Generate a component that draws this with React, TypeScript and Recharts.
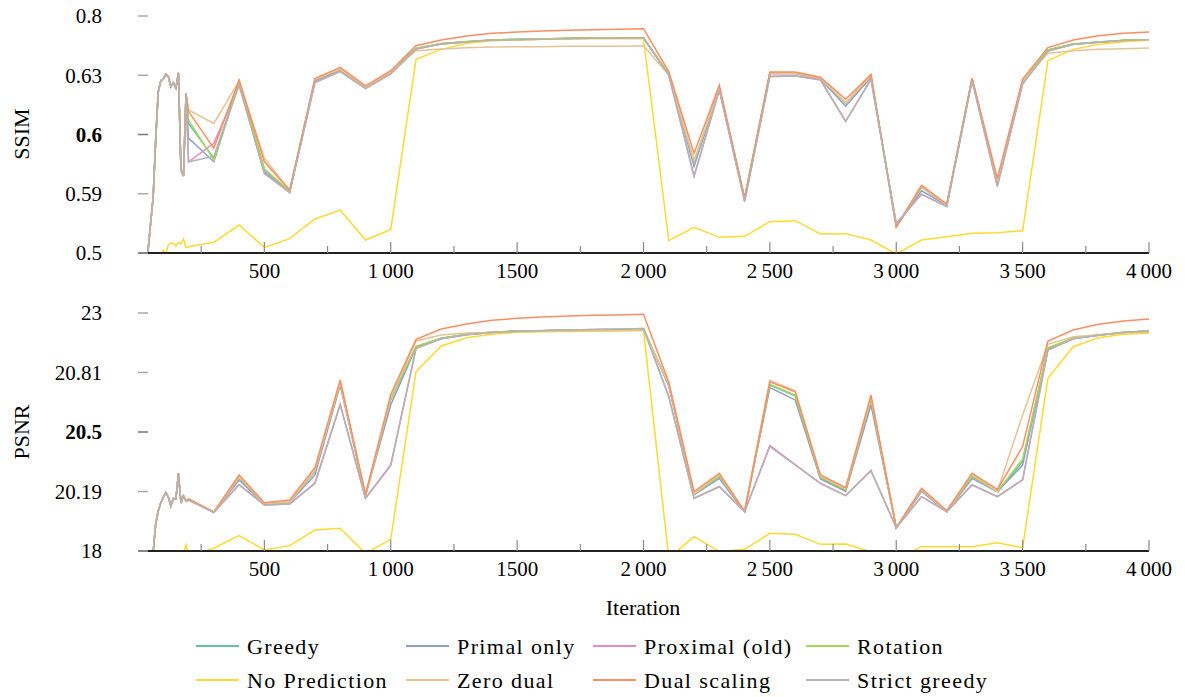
import React from "react";
import { LineChart, Line, XAxis, YAxis } from "recharts";

const FONT = "'Liberation Serif', 'Times New Roman', serif";

// iterations: dense sampling at the start, then every 100
const earlyIterations = [30, 40, 50, 60, 70, 80, 90, 100, 110, 120, 130, 140, 150, 160, 170, 180, 190];
const mainIterations = [
  200, 300, 400, 500, 600, 700, 800, 900, 1000, 1100, 1200, 1300, 1400, 1500, 1600, 1700, 1800, 1900, 2000,
  2100, 2200, 2300, 2400, 2500, 2600, 2700, 2800, 2900, 3000, 3100, 3200, 3300, 3400, 3500, 3600, 3700,
  3800, 3900, 4000,
];

const xTicks = [250, 500, 750, 1000, 1250, 1500, 1750, 2000, 2250, 2500, 2750, 3000, 3250, 3500, 3750, 4000];
const xTickLabels: Record<number, string> = {
  500: "500",
  1000: "1\u2009000",
  1500: "1500",
  2000: "2\u2009000",
  2500: "2\u2009500",
  3000: "3\u2009000",
  3500: "3\u2009500",
  4000: "4\u2009000",
};

const ssimTicks = [0.5, 0.59, 0.6, 0.63, 0.8];
const ssimTickLabels = ["0.5", "0.59", "0.6", "0.63", "0.8"];
const psnrTicks = [18, 20.19, 20.5, 20.81, 23];
const psnrTickLabels = ["18", "20.19", "20.5", "20.81", "23"];

const seriesKeys = ["greedy", "primal", "proximal", "rotation", "noPred", "zeroDual", "dualScaling", "strictGreedy"];
const seriesNames = ["Greedy", "Primal only", "Proximal (old)", "Rotation", "No Prediction", "Zero dual", "Dual scaling", "Strict greedy"];
const seriesColors = ["#66c2a5", "#8da0cb", "#e78ac3", "#a6d854", "#ffd92f", "#e5c494", "#fc8d62", "#b3b3b3"];

// ---- SSIM ----
const ssimEarly = [0.46, 0.5046, 0.5456, 0.585, 0.5991, 0.6215, 0.6272, 0.6281, 0.6327, 0.6293, 0.6242, 0.6262, 0.6235, 0.6365, 0.594, 0.593, 0.621];
const ssimEarlyNoPred = [0.44, 0.45, 0.46, 0.465, 0.47, 0.475, 0.48, 0.5038, 0.4993, 0.5122, 0.5152, 0.5144, 0.5106, 0.516, 0.5137, 0.5213, 0.5084];

const ssimGreedy = [
  0.6056, 0.596, 0.6268, 0.5941, 0.5904, 0.6276, 0.647, 0.6239, 0.6384, 0.7072,
  0.7206, 0.7264, 0.7312, 0.733, 0.734, 0.7359, 0.7369, 0.7369, 0.737, 0.6336,
  0.595, 0.6234, 0.583, 0.6355, 0.6355, 0.6283, 0.6158, 0.6296, 0.54, 0.5911,
  0.5729, 0.6284, 0.592, 0.6268, 0.7025, 0.7196, 0.7254, 0.7302, 0.732,
];
const ssimPrimal = [
  0.5994, 0.5954, 0.6265, 0.5937, 0.5903, 0.6272, 0.6455, 0.6236, 0.6375, 0.7065,
  0.7203, 0.7262, 0.731, 0.7328, 0.7339, 0.7357, 0.7367, 0.7368, 0.7369, 0.6328,
  0.5946, 0.623, 0.5825, 0.6345, 0.6348, 0.628, 0.6144, 0.629, 0.5405, 0.5905,
  0.5724, 0.628, 0.5918, 0.6265, 0.702, 0.719, 0.725, 0.73, 0.7318,
];
const ssimProximal = [
  0.5954, 0.5985, 0.6252, 0.5935, 0.5902, 0.6264, 0.641, 0.6233, 0.634, 0.7055,
  0.7198, 0.7256, 0.7303, 0.7322, 0.7336, 0.7352, 0.7362, 0.7366, 0.7369, 0.631,
  0.593, 0.6226, 0.5785, 0.6295, 0.6298, 0.6277, 0.6068, 0.628, 0.545, 0.5893,
  0.5706, 0.6274, 0.5913, 0.6257, 0.6998, 0.7186, 0.725, 0.73, 0.732,
];
const ssimRotation = [
  0.6073, 0.5957, 0.6268, 0.5942, 0.5904, 0.6278, 0.6475, 0.624, 0.6388, 0.7075,
  0.7208, 0.7265, 0.7313, 0.7331, 0.7341, 0.736, 0.737, 0.737, 0.7371, 0.634,
  0.5955, 0.6236, 0.5832, 0.6358, 0.6358, 0.6285, 0.616, 0.6298, 0.5398, 0.5912,
  0.573, 0.6284, 0.5921, 0.627, 0.7028, 0.7198, 0.7255, 0.7303, 0.7322,
];
const ssimNoPred = [
  0.5095, 0.5162, 0.5425, 0.5086, 0.5218, 0.5516, 0.5653, 0.5197, 0.5359, 0.6757,
  0.7043, 0.7215, 0.7293, 0.7312, 0.733, 0.734, 0.735, 0.735, 0.7349, 0.5187,
  0.539, 0.5238, 0.5253, 0.5476, 0.5491, 0.5289, 0.5294, 0.5197, 0.4985, 0.5197,
  0.5248, 0.5299, 0.5309, 0.5339, 0.6718, 0.7043, 0.7186, 0.7264, 0.7302,
];
const ssimZeroDual = [
  0.6124, 0.6056, 0.6272, 0.596, 0.5906, 0.6278, 0.6475, 0.624, 0.6388, 0.7005,
  0.7053, 0.7092, 0.7111, 0.7121, 0.7121, 0.713, 0.7135, 0.7135, 0.7148, 0.6307,
  0.5955, 0.6236, 0.5832, 0.6358, 0.6358, 0.6285, 0.616, 0.6298, 0.54, 0.5912,
  0.573, 0.6284, 0.5921, 0.627, 0.6929, 0.7005, 0.7043, 0.7063, 0.7082,
];
const ssimDualScaling = [
  0.6116, 0.5977, 0.6275, 0.5954, 0.5906, 0.6284, 0.6528, 0.6246, 0.6431, 0.7148,
  0.7312, 0.7426, 0.7502, 0.7541, 0.757, 0.7589, 0.7607, 0.7617, 0.7636, 0.6403,
  0.5968, 0.625, 0.5835, 0.6393, 0.6393, 0.629, 0.6178, 0.6326, 0.5395, 0.5914,
  0.5744, 0.6284, 0.5926, 0.6281, 0.7092, 0.7312, 0.7436, 0.7502, 0.7541,
];
const ssimStrictGreedy = [
  0.5954, 0.5963, 0.625, 0.5934, 0.5902, 0.6262, 0.6403, 0.6232, 0.6336, 0.7053,
  0.7196, 0.7254, 0.7302, 0.732, 0.7335, 0.735, 0.736, 0.7365, 0.7369, 0.6307,
  0.5929, 0.6225, 0.578, 0.6293, 0.6296, 0.6276, 0.6065, 0.6279, 0.5451, 0.5891,
  0.5704, 0.6273, 0.5912, 0.6256, 0.6995, 0.7185, 0.725, 0.73, 0.732,
];

// ---- PSNR ----
const psnrEarly = [16.6, 17.0, 17.4, 17.95, 18.994, 19.472, 19.767, 19.969, 20.153, 19.988, 19.656, 19.932, 19.914, 20.284, 19.767, 20.024, 19.84];
const psnrEarlyNoPred = [16.8, 17.1, 16.9, 17.3, 17.2, 17.5, 17.4, 17.6, 17.5, 17.7, 17.6, 17.8, 17.7, 17.85, 17.8, 17.95, 18.22];

const psnrGreedy = [
  19.896, 19.423, 20.259, 19.73, 19.791, 20.293, 20.754, 20.037, 20.667, 21.76,
  22.067, 22.214, 22.288, 22.337, 22.35, 22.374, 22.387, 22.39, 22.411, 20.745,
  20.086, 20.267, 19.448, 20.745, 20.689, 20.262, 20.198, 20.667, 18.859, 20.198,
  19.448, 20.267, 20.184, 20.345, 21.699, 22.067, 22.19, 22.288, 22.337,
];
const psnrPrimal = [
  19.89, 19.42, 20.25, 19.72, 19.785, 20.276, 20.745, 20.03, 20.641, 21.74,
  22.06, 22.21, 22.285, 22.335, 22.35, 22.372, 22.385, 22.39, 22.41, 20.74,
  20.07, 20.258, 19.44, 20.731, 20.667, 20.255, 20.19, 20.641, 18.85, 20.19,
  19.44, 20.258, 20.178, 20.328, 21.68, 22.06, 22.185, 22.285, 22.335,
];
const psnrProximal = [
  19.87, 19.423, 20.226, 19.695, 19.732, 20.234, 20.645, 19.94, 20.33, 21.7,
  22.05, 22.2, 22.28, 22.33, 22.35, 22.37, 22.39, 22.4, 22.43, 20.685,
  19.94, 20.216, 19.448, 20.43, 20.33, 20.233, 20.04, 20.3, 18.86, 20.0,
  19.448, 20.225, 20.0, 20.252, 21.64, 22.05, 22.18, 22.28, 22.337,
];
const psnrRotation = [
  19.9, 19.425, 20.263, 19.74, 19.8, 20.298, 20.758, 20.045, 20.674, 21.77,
  22.07, 22.216, 22.29, 22.338, 22.352, 22.375, 22.388, 22.392, 22.412, 20.748,
  20.095, 20.27, 19.45, 20.748, 20.692, 20.265, 20.2, 20.672, 18.859, 20.2,
  19.45, 20.27, 20.188, 20.359, 21.72, 22.07, 22.19, 22.29, 22.338,
];
const psnrNoPred = [
  17.8, 18.1, 18.564, 18.037, 18.197, 18.773, 18.834, 17.91, 18.43, 20.841,
  21.785, 22.091, 22.214, 22.288, 22.31, 22.32, 22.33, 22.34, 22.363, 17.74,
  18.528, 17.98, 18.061, 18.65, 18.613, 18.245, 18.257, 17.97, 17.7, 18.16,
  18.16, 18.16, 18.307, 18.123, 20.78, 21.76, 22.091, 22.214, 22.264,
];
const psnrZeroDual = [
  19.9, 19.425, 20.265, 19.75, 19.8, 20.3, 20.76, 20.05, 20.68, 21.969,
  22.19, 22.264, 22.29, 22.31, 22.33, 22.34, 22.35, 22.355, 22.36, 20.75,
  20.1, 20.28, 19.45, 20.77, 20.715, 20.27, 20.205, 20.68, 18.855, 20.2,
  19.45, 20.28, 20.19, 20.589, 21.846, 22.129, 22.2, 22.27, 22.3,
];
const psnrDualScaling = [
  19.92, 19.44, 20.276, 19.779, 19.877, 20.314, 20.771, 20.086, 20.696, 22.03,
  22.411, 22.595, 22.73, 22.803, 22.853, 22.89, 22.915, 22.926, 22.952, 20.759,
  20.184, 20.285, 19.46, 20.762, 20.71, 20.276, 20.21, 20.693, 18.85, 20.206,
  19.49, 20.285, 20.201, 20.424, 21.969, 22.374, 22.584, 22.706, 22.779,
];
const psnrStrictGreedy = [
  19.87, 19.423, 20.224, 19.693, 19.73, 20.232, 20.641, 19.938, 20.325, 21.699,
  22.05, 22.2, 22.28, 22.33, 22.35, 22.37, 22.39, 22.4, 22.43, 20.684,
  19.938, 20.215, 19.448, 20.424, 20.328, 20.232, 20.037, 20.297, 18.859, 19.999,
  19.448, 20.224, 19.999, 20.25, 21.638, 22.05, 22.18, 22.28, 22.337,
];

const ssimMain = [ssimGreedy, ssimPrimal, ssimProximal, ssimRotation, ssimNoPred, ssimZeroDual, ssimDualScaling, ssimStrictGreedy];
const psnrMain = [psnrGreedy, psnrPrimal, psnrProximal, psnrRotation, psnrNoPred, psnrZeroDual, psnrDualScaling, psnrStrictGreedy];

function buildRows(early: number[], earlyNoPred: number[], main: number[][]) {
  const iterations = [...earlyIterations, ...mainIterations];
  return iterations.map((it, i) => {
    const row: Record<string, number> = { it };
    seriesKeys.forEach((k, s) => {
      const head = k === "noPred" ? earlyNoPred : early;
      row[k] = i < head.length ? head[i] : main[s][i - head.length];
    });
    return row;
  });
}

const ssimRows = buildRows(ssimEarly, ssimEarlyNoPred, ssimMain);
const psnrRows = buildRows(psnrEarly, psnrEarlyNoPred, psnrMain);

// the y axes are piecewise linear: each labelled value sits one step above the previous
function toPos(v: number, ticks: number[]) {
  let i = 0;
  while (i < ticks.length - 2 && v > ticks[i + 1]) i++;
  return i + (v - ticks[i]) / (ticks[i + 1] - ticks[i]);
}

const renderXTick = (props: any) => {
  const { x, y, payload } = props;
  const v = payload.value as number;
  const major = v % 500 === 0;
  return (
    <g>
      <line x1={x} x2={x} y1={y} y2={y - (major ? 11 : 7)} stroke="#8a8a8a" strokeWidth={1.2} />
      {major && (
        <text x={x} y={y + 25} textAnchor="middle" fontFamily={FONT} fontSize={21} fill="#000">
          {xTickLabels[v]}
        </text>
      )}
    </g>
  );
};

const makeYTick = (labels: string[]) => (props: any) => {
  const { x, y, payload } = props;
  const idx = payload.value as number;
  return (
    <g>
      <line x1={x} x2={x + 10} y1={y} y2={y} stroke={idx === 2 ? "#777" : "#a8a8a8"} strokeWidth={1.5} />
      <text
        x={x - 36}
        y={y}
        dy="0.35em"
        textAnchor="end"
        fontFamily={FONT}
        fontSize={21}
        fontWeight={idx === 2 ? 700 : 400}
        fill="#000"
      >
        {labels[idx]}
      </text>
    </g>
  );
};

interface PanelProps {
  rows: Record<string, number>[];
  ticks: number[];
  labels: string[];
  top: number;
  bottom: number;
}

const Panel: React.FC<PanelProps> = ({ rows, ticks, labels, top, bottom }) => (
  <div style={{ position: "absolute", left: 0, top }}>
    <LineChart width={1185} height={300} data={rows} margin={{ top: 16, right: 36, bottom, left: 0 }}>
      <XAxis
        dataKey="it"
        type="number"
        domain={[0, 4000]}
        ticks={xTicks}
        interval={0}
        height={40}
        tickSize={0}
        tickMargin={0}
        tickLine={false}
        axisLine={{ stroke: "#222", strokeWidth: 1.8 }}
        tick={renderXTick}
      />
      <YAxis
        type="number"
        domain={[0, 4]}
        ticks={[0, 1, 2, 3, 4]}
        interval={0}
        allowDataOverflow
        width={138}
        tickSize={0}
        tickMargin={0}
        tickLine={false}
        axisLine={false}
        tick={makeYTick(labels)}
      />
      {seriesKeys.map((k, s) => (
        <Line
          key={k}
          name={seriesNames[s]}
          type="linear"
          dataKey={(d: Record<string, number>) => toPos(d[k], ticks)}
          stroke={seriesColors[s]}
          strokeWidth={1.5}
          dot={false}
          activeDot={false}
          isAnimationActive={false}
        />
      ))}
    </LineChart>
  </div>
);

const legendCols = [196, 406, 593, 806];
const legendRows = [646, 680];

export default function App() {
  return (
    <div
      style={{
        position: "absolute",
        left: 0,
        top: 0,
        width: 1185,
        height: 697,
        background: "#fff",
        fontFamily: FONT,
      }}
    >
      <Panel rows={ssimRows} ticks={ssimTicks} labels={ssimTickLabels} top={0} bottom={7} />
      <Panel rows={psnrRows} ticks={psnrTicks} labels={psnrTickLabels} top={297} bottom={6} />
      <svg
        width={1185}
        height={697}
        style={{ position: "absolute", left: 0, top: 0, pointerEvents: "none" }}
      >
        <text transform="translate(21,134) rotate(-90)" textAnchor="middle" dy="0.35em" fontFamily={FONT} fontSize={22}>
          SSIM
        </text>
        <text transform="translate(21,432) rotate(-90)" textAnchor="middle" dy="0.35em" fontFamily={FONT} fontSize={22}>
          PSNR
        </text>
        <text x={643} y={615} textAnchor="middle" fontFamily={FONT} fontSize={22}>
          Iteration
        </text>
        {seriesNames.map((name, s) => {
          const lx = legendCols[s % 4];
          const ly = legendRows[Math.floor(s / 4)];
          return (
            <g key={name}>
              <line x1={lx} x2={lx + 43} y1={ly} y2={ly} stroke={seriesColors[s]} strokeWidth={2} />
              <text x={lx + 51} y={ly} dy="0.35em" fontFamily={FONT} fontSize={22} letterSpacing={1.4}>
                {name}
              </text>
            </g>
          );
        })}
      </svg>
    </div>
  );
}
